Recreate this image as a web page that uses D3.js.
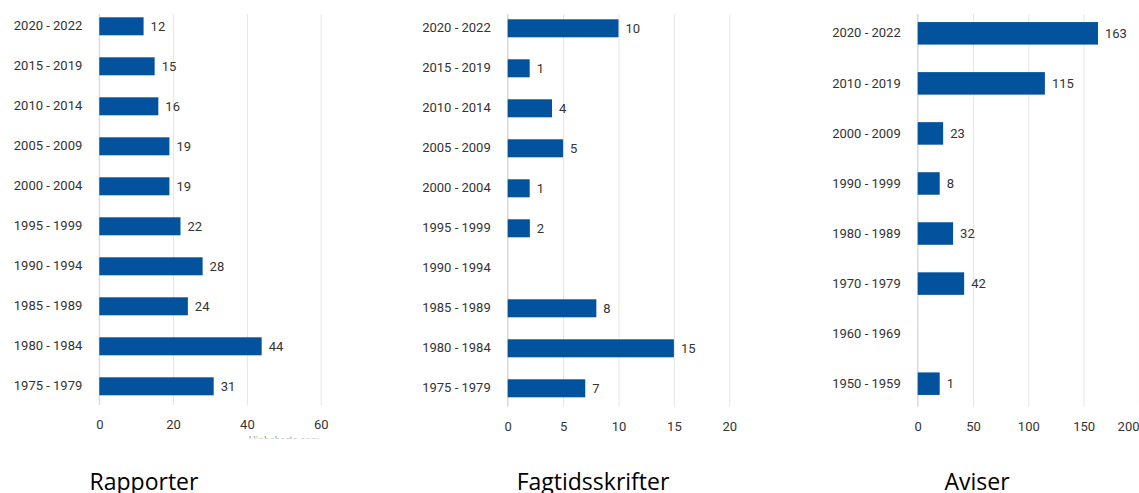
<!DOCTYPE html>
<head>
    <meta charset="utf-8">
    <script src="https://d3js.org/d3.v7.min.js"></script>
    <style>
      body { margin: 0; background: #fff; }
    </style>
</head>

<body>
<svg width="1139" height="493" font-family="Roboto, sans-serif" font-size="13"></svg>
<script>

// data (null = no bar)
let rapporterCats = ["2020 - 2022", "2015 - 2019", "2010 - 2014", "2005 - 2009", "2000 - 2004",
                     "1995 - 1999", "1990 - 1994", "1985 - 1989", "1980 - 1984", "1975 - 1979"];
let rapporterVals = [12, 15, 16, 19, 19, 22, 28, 24, 44, 31];
let rapporterTicks = [0, 20, 40, 60];

let fagCats = ["2020 - 2022", "2015 - 2019", "2010 - 2014", "2005 - 2009", "2000 - 2004",
               "1995 - 1999", "1990 - 1994", "1985 - 1989", "1980 - 1984", "1975 - 1979"];
let fagVals = [10, 1, 4, 5, 1, 2, null, 8, 15, 7];
let fagTicks = [0, 5, 10, 15, 20];

let aviserCats = ["2020 - 2022", "2010 - 2019", "2000 - 2009", "1990 - 1999",
                  "1980 - 1989", "1970 - 1979", "1960 - 1969", "1950 - 1959"];
let aviserVals = [163, 115, 23, 8, 32, 42, null, 1];
let aviserTicks = [0, 50, 100, 150, 200];

let titles = ["Rapporter", "Fagtidsskrifter", "Aviser"];

// layout of each panel
let panels = [
  { cats: rapporterCats, vals: rapporterVals, ticks: rapporterTicks, title: titles[0],
    left: 99.3, right: 320.7, top: 6.3, bottom: 406.3, gridTop: 14, gridBottom: 405, tickPad: 14.5,
    titleX: 144, creditX: 320, creditSize: 10 },
  { cats: fagCats, vals: fagVals, ticks: fagTicks, title: titles[1],
    left: 507.7, right: 729.3, top: 8.3, bottom: 408.3, gridTop: 14, gridBottom: 406.7, tickPad: 15.5,
    titleX: 593, creditX: 702, creditSize: 7 },
  { cats: aviserCats, vals: aviserVals, ticks: aviserTicks, title: titles[2],
    left: 917.7, right: 1138.9, top: 8.3, bottom: 408.7, gridTop: 14, gridBottom: 406.7, tickPad: 15.5,
    titleX: 977, creditX: 1110, creditSize: 7 }
];

let barColor = "#03529d",
    minBarLength = 22;

let svg = d3.select("svg");

svg.append("defs").append("clipPath")
    .attr("id", "cut")
  .append("rect")
    .attr("width", 1139)
    .attr("height", 438.5);

panels.forEach(function(p) {
  let x = d3.scaleLinear()
      .domain([p.ticks[0], p.ticks[p.ticks.length - 1]])
      .range([p.left, p.right]);

  let y = d3.scaleBand()
      .domain(p.cats)
      .range([p.top, p.bottom])
      .paddingInner(0.55)
      .paddingOuter(0.275);

  let g = svg.append("g");

  // grid + value axis
  let xAxis = g.append("g")
      .attr("transform", "translate(0," + p.gridBottom + ")")
      .call(d3.axisBottom(x)
          .tickValues(p.ticks)
          .tickSize(-(p.gridBottom - p.gridTop))
          .tickPadding(p.tickPad)
          .tickFormat(d3.format("d")));

  xAxis.select(".domain").remove();
  xAxis.selectAll("line").attr("stroke", "#e6e6e6");
  xAxis.selectAll("text")
      .attr("font-family", "Roboto, sans-serif")
      .attr("font-size", 13)
      .attr("fill", "#333");

  // last tick label pushed inside the picture
  xAxis.selectAll(".tick text")
      .filter(function(d) { return x(d) + 12 > 1139; })
      .attr("text-anchor", "end")
      .attr("x", function(d) { return 1139 - x(d); });

  // category axis line
  g.append("line")
      .attr("x1", p.left).attr("x2", p.left)
      .attr("y1", p.gridTop).attr("y2", p.gridBottom)
      .attr("stroke", "#ccd6eb");

  let yAxis = g.append("g")
      .attr("transform", "translate(" + p.left + ",0)")
      .call(d3.axisLeft(y).tickSize(0).tickPadding(17));

  yAxis.select(".domain").remove();
  yAxis.selectAll("text")
      .attr("font-family", "Roboto, sans-serif")
      .attr("font-size", 13)
      .attr("fill", "#333");

  let rows = p.cats.map(function(c, i) { return { cat: c, val: p.vals[i] }; })
      .filter(function(d) { return d.val !== null; });

  function barEnd(d) {
    return Math.max(x(d.val), x(0) + minBarLength);
  }

  g.append("g")
    .selectAll("rect")
    .data(rows)
    .enter().append("rect")
      .attr("x", x(0))
      .attr("y", function(d) { return y(d.cat); })
      .attr("width", function(d) { return barEnd(d) - x(0); })
      .attr("height", y.bandwidth())
      .attr("fill", barColor);

  g.append("g")
    .selectAll("text")
    .data(rows)
    .enter().append("text")
      .attr("x", function(d) { return barEnd(d) + 7; })
      .attr("y", function(d) { return y(d.cat) + y.bandwidth() / 2; })
      .attr("dy", "0.35em")
      .attr("fill", "#333")
      .text(function(d) { return d.val; });

  // credit, cut off like in the screenshot
  g.append("text")
      .attr("clip-path", "url(#cut)")
      .attr("x", p.creditX)
      .attr("y", 444)
      .attr("text-anchor", "end")
      .attr("font-size", p.creditSize)
      .attr("fill", "#999")
      .text("Highcharts.com");

  svg.append("text")
      .attr("x", p.titleX)
      .attr("y", 490)
      .attr("text-anchor", "middle")
      .attr("font-family", "'Open Sans', sans-serif")
      .attr("font-size", 23)
      .attr("fill", "#000")
      .text(p.title);
});

</script>
</body>
